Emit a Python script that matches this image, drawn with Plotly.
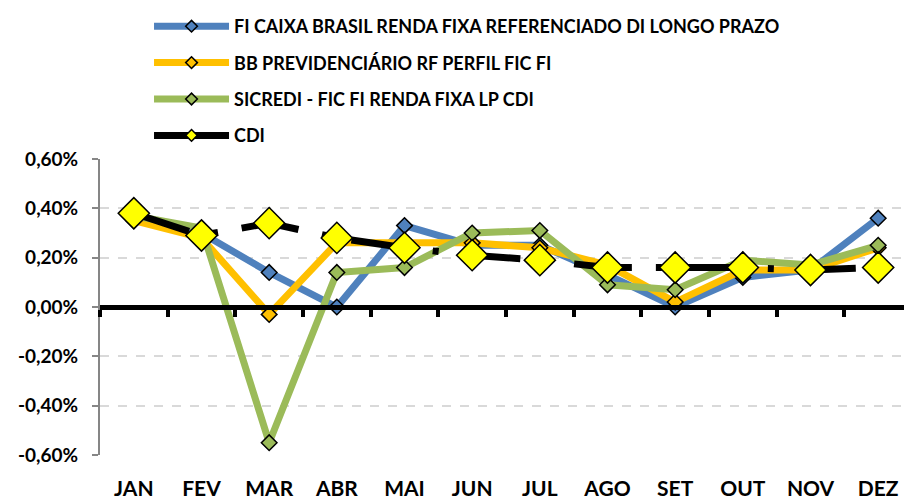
import plotly.graph_objects as go

months = ["JAN", "FEV", "MAR", "ABR", "MAI", "JUN", "JUL", "AGO", "SET", "OUT", "NOV", "DEZ"]
caixa = [0.36, 0.30, 0.14, 0.00, 0.33, 0.25, 0.25, 0.13, 0.00, 0.12, 0.15, 0.36]
bb = [0.35, 0.28, -0.03, 0.26, 0.26, 0.26, 0.24, 0.17, 0.02, 0.15, 0.15, 0.24]
sicredi = [0.37, 0.32, -0.55, 0.14, 0.16, 0.30, 0.31, 0.09, 0.07, 0.19, 0.17, 0.25]
cdi = [0.38, 0.29, 0.34, 0.28, 0.24, 0.21, 0.19, 0.16, 0.16, 0.16, 0.15, 0.16]
names = ["FI CAIXA BRASIL RENDA FIXA REFERENCIADO DI LONGO PRAZO",
         "BB PREVIDENCIÁRIO RF PERFIL FIC FI",
         "SICREDI - FIC FI RENDA FIXA LP CDI",
         "CDI"]
ytick_vals = [-0.6, -0.4, -0.2, 0.0, 0.2, 0.4, 0.6]
ytick_text = ["-0,60%", "-0,40%", "-0,20%", "0,00%", "0,20%", "0,40%", "0,60%"]

FONT = "Lato"
x = list(range(len(months)))

fig = go.Figure()

# invisible trace to carry the zero axis (xaxis2)
fig.add_trace(go.Scatter(x=[0], y=[0], xaxis="x2", mode="markers",
                         marker=dict(opacity=0), showlegend=False, hoverinfo="skip"))

series = [(caixa, "#4F81BD", "#4F81BD"), (bb, "#FFC000", "#FFC000"),
          (sicredi, "#9BBB59", "#9BBB59"), (cdi, "black", "#FFFF00")]
for i, (vals, col, mcol) in enumerate(series):
    is_cdi = i == 3
    fig.add_trace(go.Scatter(
        x=x, y=vals, name=names[i], mode="lines+markers", showlegend=False,
        line=dict(color=col, width=7, dash="58px,24px,6px,24px" if is_cdi else "solid"),
        marker=dict(symbol="diamond", size=24 if is_cdi else 12, color=mcol,
                    line=dict(color="black", width=1.5)),
    ))
    # legend entry (solid line with small marker, as in the original legend)
    fig.add_trace(go.Scatter(
        x=[None], y=[None], name=names[i], mode="lines+markers", legendgroup=str(i),
        line=dict(color=col, width=7),
        marker=dict(symbol="diamond", size=9, color=mcol,
                    line=dict(color="black", width=1.5)),
    ))

fig.update_layout(
    width=904, height=492,
    margin=dict(l=92, r=0, t=151, b=45, autoexpand=False),
    plot_bgcolor="white", paper_bgcolor="white",
    font=dict(family=FONT, color="black"),
    legend=dict(
        xref="container", yref="container", x=0.156, y=1.012,
        xanchor="left", yanchor="top", orientation="v",
        font=dict(family=FONT, size=18, color="black", weight="bold"),
        tracegroupgap=10, itemwidth=75, bgcolor="rgba(0,0,0,0)",
    ),
    xaxis=dict(
        range=[-0.5, 11.5], tickmode="array", tickvals=x, ticktext=months,
        showgrid=False, showline=False, zeroline=False, ticks="",
        tickfont=dict(family=FONT, size=21, weight="bold", color="black"),
        ticklabelstandoff=19,
    ),
    xaxis2=dict(
        range=[-0.5, 11.5], overlaying="x", anchor="free", position=0.5,
        side="bottom", showline=True, linecolor="black", linewidth=5,
        tickmode="array", tickvals=[i - 0.5 for i in range(len(months) + 1)],
        ticks="outside", ticklen=7, tickwidth=4, tickcolor="black",
        showticklabels=False, showgrid=False, zeroline=False,
    ),
    yaxis=dict(
        range=[-0.6, 0.6], tickmode="array", tickvals=ytick_vals, ticktext=ytick_text,
        showgrid=True, gridcolor="#D9D9D9", gridwidth=2, griddash="dash",
        showline=True, linecolor="#868686", linewidth=2,
        ticks="outside", ticklen=6, tickcolor="#868686", tickwidth=2,
        zeroline=False,
        tickfont=dict(family=FONT, size=19, weight="bold", color="black"),
        ticklabelstandoff=10,
    ),
)

fig.write_html("out.html")
